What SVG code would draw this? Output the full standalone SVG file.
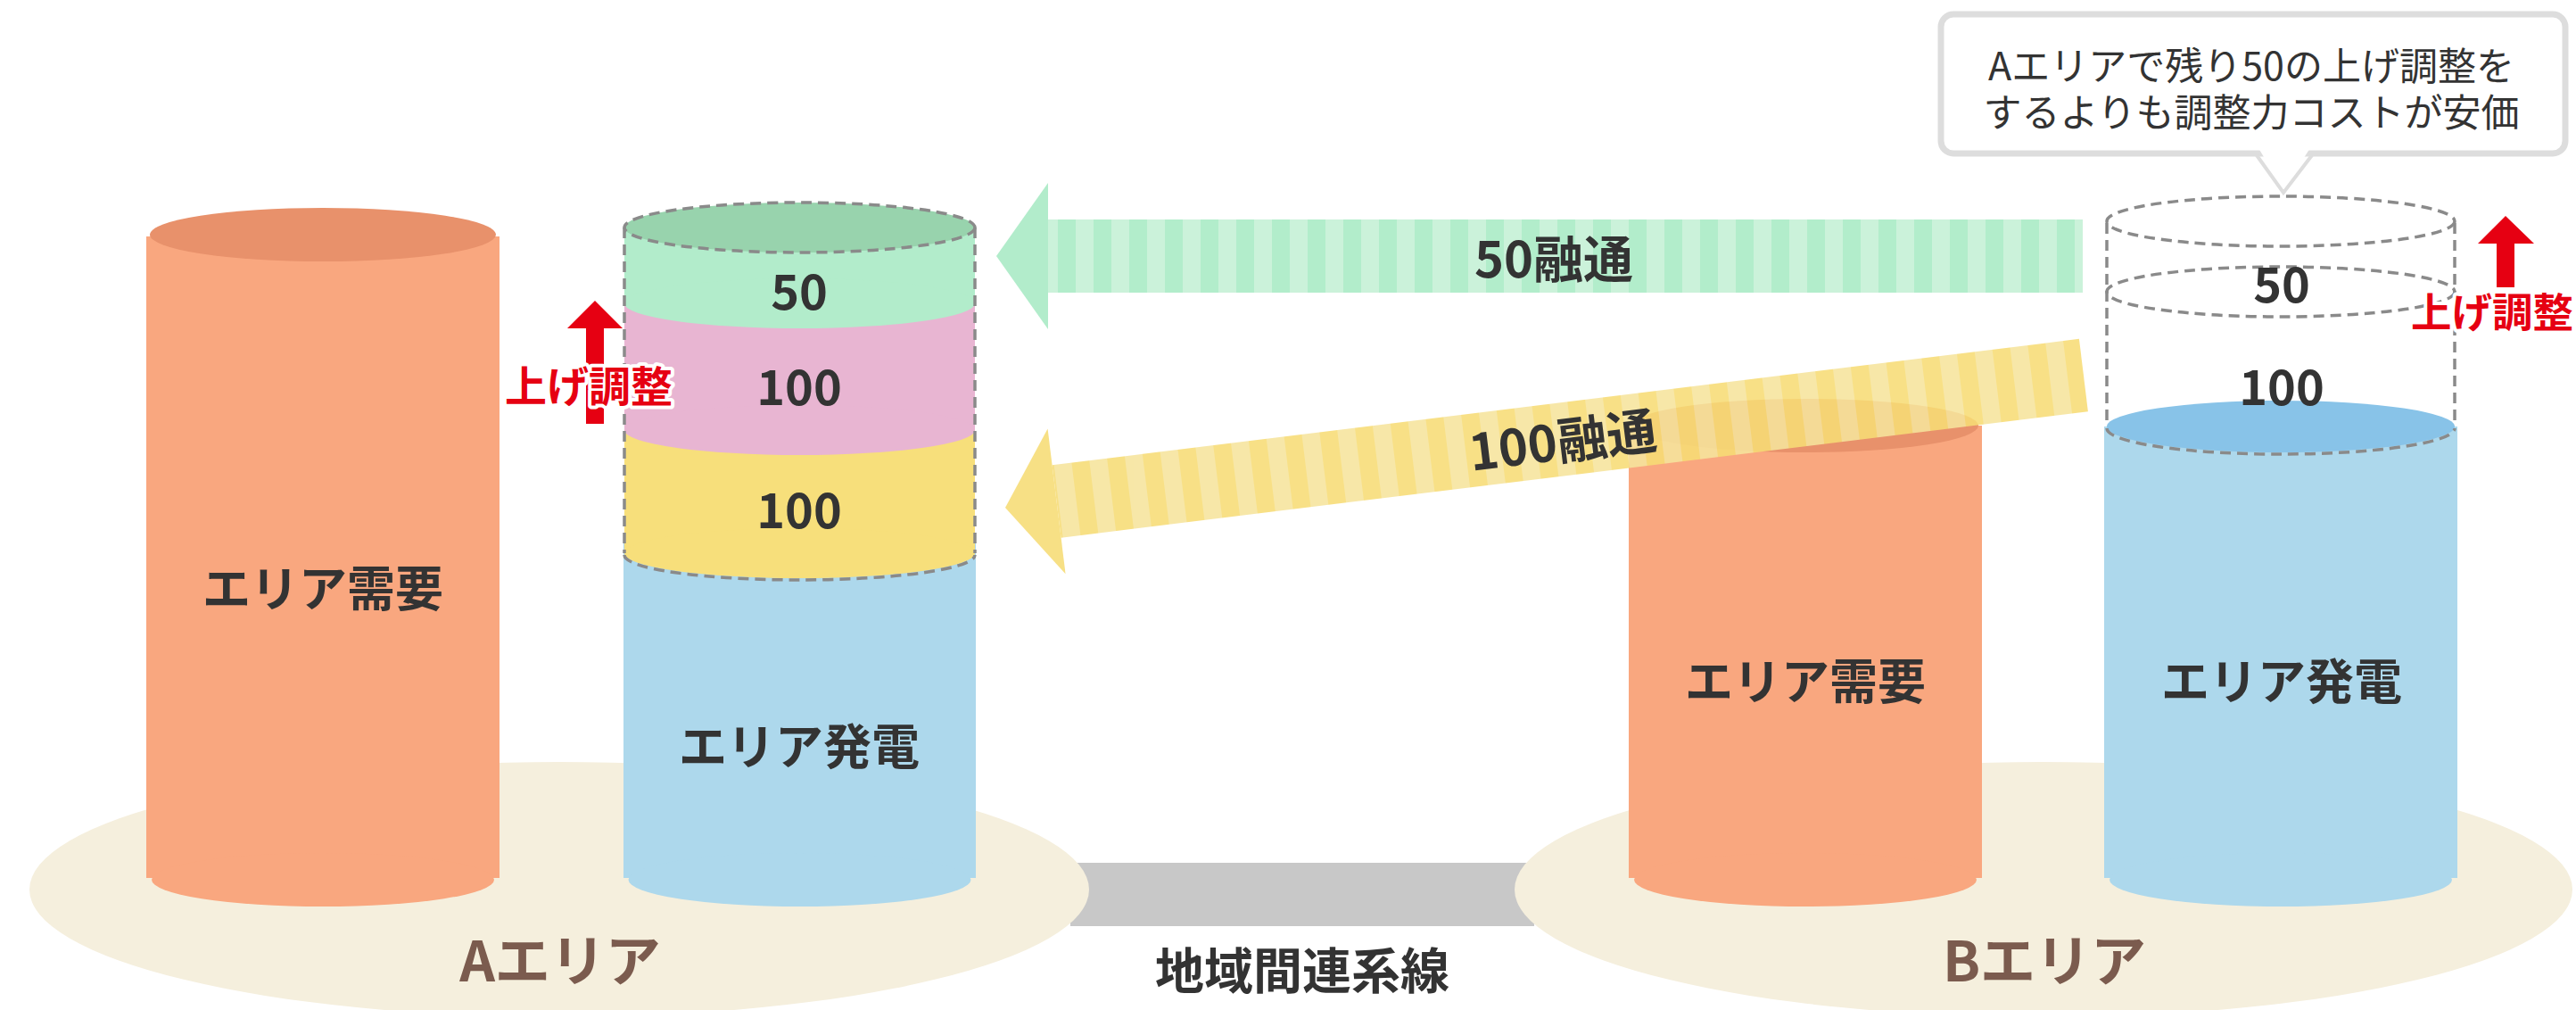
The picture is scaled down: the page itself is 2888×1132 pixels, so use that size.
<svg xmlns="http://www.w3.org/2000/svg" width="2888" height="1132" viewBox="0 0 2888 1132">
<style>
text{font-family:"Noto Sans CJK JP","Noto Sans",sans-serif;}
.lbl{font-weight:700;fill:#333333;text-anchor:middle;}
.num{font-weight:700;fill:#333333;text-anchor:middle;font-size:54px;}
.area{font-weight:700;fill:#7B5B4E;text-anchor:middle;font-size:62px;}
.red{font-weight:700;fill:#E60012;font-size:47px;stroke:#FFFFFF;stroke-width:8px;paint-order:stroke;stroke-linejoin:round;}
.dash{fill:none;stroke:#8A8A8A;stroke-width:3.5;stroke-dasharray:12 7;}
.dem{fill:#F9A77F;}
.demtop{fill:#E8916B;}
.gen{fill:#ADD8EC;}
.gentop{fill:#88C3E8;}
.base{fill:#F5EFDD;}
</style>
<defs>
<pattern id="stripeG" patternUnits="userSpaceOnUse" x="29" y="0" width="40" height="200">
<rect x="0" y="0" width="20" height="200" fill="#B2EDCB"/>
<rect x="20" y="0" width="20" height="200" fill="#CBF2DA"/>
</pattern>
<pattern id="stripeY" patternUnits="userSpaceOnUse" x="0" y="0" width="40" height="200">
<rect x="0" y="0" width="20" height="200" fill="#F7DC75"/>
<rect x="20" y="0" width="20" height="200" fill="#F6E49C"/>
</pattern>
</defs>

<g id="areas">
<rect id="interconnector" x="1200" y="967" width="520" height="71" fill="#C8C8C8"/>
<ellipse class="base" cx="627" cy="997" rx="594" ry="143"/>
<ellipse class="base" cx="2291" cy="997" rx="593" ry="143"/>
</g>

<g id="a-demand">
<rect class="dem" x="164" y="265" width="396" height="719"/>
<ellipse class="dem" cx="362" cy="986" rx="192" ry="30"/>
<ellipse class="demtop" cx="362" cy="263" rx="194" ry="30"/>
<text class="lbl" x="362" y="680" font-size="54">エリア需要</text>
</g>

<g id="a-generation">
<rect class="gen" x="699" y="600" width="395" height="384"/>
<ellipse class="gen" cx="896.5" cy="986" rx="192" ry="30"/>
<rect x="700" y="482" width="393" height="138" fill="#F7DF7B"/>
<ellipse cx="896.5" cy="620" rx="196.5" ry="28" fill="#F7DF7B"/>
<rect x="700" y="340" width="393" height="142" fill="#E8B5D2"/>
<ellipse cx="896.5" cy="482" rx="196.5" ry="28" fill="#E8B5D2"/>
<rect x="700" y="255" width="393" height="85" fill="#B2ECCB"/>
<ellipse cx="896.5" cy="340" rx="196.5" ry="28" fill="#B2ECCB"/>
<ellipse class="dash" cx="896.5" cy="255" rx="196.5" ry="28" style="fill:#98D3AD"/>
<path class="dash" d="M700,255 V620 M1093,255 V620 M700,622 A196.5,28 0 0 0 1093,622"/>
<text class="num" x="896" y="347">50</text>
<text class="num" x="896" y="454">100</text>
<text class="num" x="896" y="592">100</text>
<text class="lbl" x="896" y="857" font-size="54">エリア発電</text>
</g>

<g id="a-upadjust">
<path d="M667,337 L698,368 L677,368 L677,475 L657,475 L657,368 L636,368 Z" fill="#E60012"/>
<text class="red" x="566" y="450">上げ調整</text>
</g>

<g id="b-demand">
<rect class="dem" x="1826" y="477" width="396" height="507"/>
<ellipse class="dem" cx="2024" cy="986" rx="192" ry="30"/>
<ellipse class="demtop" cx="2024" cy="477" rx="194" ry="30"/>
<text class="lbl" x="2024" y="784" font-size="54">エリア需要</text>
</g>

<g id="b-generation">
<rect class="gen" x="2359" y="478" width="396" height="506"/>
<ellipse class="gen" cx="2557" cy="986" rx="192" ry="30"/>
<ellipse class="gentop" cx="2557" cy="478" rx="195" ry="29"/>
<path class="dash" d="M2362,480 A195,29 0 0 0 2752,480"/>
<ellipse class="dash" cx="2557" cy="248" rx="195" ry="28"/>
<ellipse class="dash" cx="2557" cy="327" rx="195" ry="28"/>
<path class="dash" d="M2362,250 V477 M2752,250 V477"/>
<text class="num" x="2558" y="339">50</text>
<text class="num" x="2558" y="454">100</text>
<text class="lbl" x="2558" y="784" font-size="54">エリア発電</text>
</g>

<g id="b-upadjust">
<path d="M2809,242 L2841,273 L2819,273 L2819,322 L2799,322 L2799,273 L2778,273 Z" fill="#E60012"/>
<text class="red" x="2703" y="367" style="font-size:45.5px">上げ調整</text>
</g>

<g id="connectors">
<g id="flow-50" transform="translate(1117,287)">
<rect x="58" y="-41" width="1160" height="82" fill="url(#stripeG)"/>
<path d="M0,0 L58,-82 L58,82 Z" fill="#B2ECCB"/>
</g>
<g id="flow-100" transform="translate(1127,569) rotate(-7)" opacity="0.88">
<rect x="58" y="-41" width="1160" height="82" fill="url(#stripeY)"/>
<path d="M0,0 L58,-82 L58,82 Z" fill="#F7DC75"/>
</g>
<text class="lbl" x="1742" y="311" font-size="56">50融通</text>
<text class="lbl" x="1752" y="515" font-size="56" transform="rotate(-7 1752 494)">100融通</text>
</g>

<g id="callout">
<rect x="2176" y="16" width="700" height="156" rx="14" ry="14" fill="#FFFFFF" stroke="#DDDDDD" stroke-width="7"/>
<polygon points="2532,166 2590,166 2560,212" fill="#FFFFFF"/>
<polyline points="2530,174 2560,216 2592,174" fill="none" stroke="#DDDDDD" stroke-width="4"/>
<text font-size="43" fill="#333333" text-anchor="middle"><tspan x="2524" y="90">Aエリアで残り50の上げ調整を</tspan><tspan x="2524" y="142">するよりも調整力コストが安価</tspan></text>
</g>

<g id="labels">
<text class="area" x="628" y="1100">Aエリア</text>
<text class="area" x="2292" y="1100">Bエリア</text>
<text class="lbl" x="1460" y="1108" font-size="55">地域間連系線</text>
</g>
</svg>
